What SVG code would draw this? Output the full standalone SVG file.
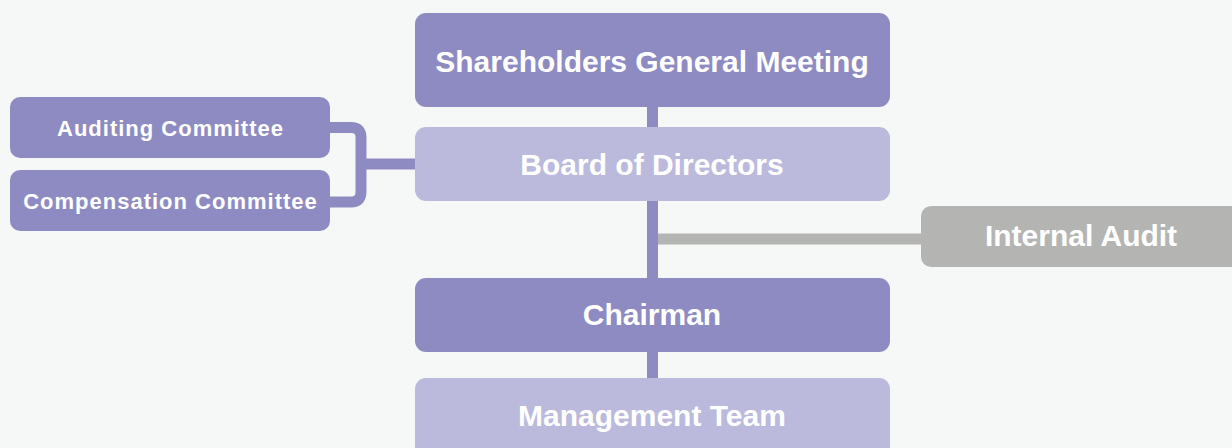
<svg xmlns="http://www.w3.org/2000/svg" width="1232" height="448" viewBox="0 0 1232 448">
<style>
.dark{fill:#8e8bc2}
.light{fill:#bbbadd}
.gray{fill:#b4b5b3}
text{font-family:"Liberation Sans",Arial,sans-serif;font-weight:bold;fill:#ffffff;text-anchor:middle}
.big{font-size:30px}
.small{font-size:22px;letter-spacing:1px}
.line{stroke:#8e8bc2;stroke-width:11;fill:none}
.gline{stroke:#b4b5b3;stroke-width:11;fill:none}
</style>
<rect width="1232" height="448" fill="#f6f8f7"/>
<g id="connectors">
<line class="line" x1="652.5" y1="100" x2="652.5" y2="135"/>
<line class="line" x1="652.5" y1="195" x2="652.5" y2="385"/>
<line class="gline" x1="658" y1="239" x2="930" y2="239"/>
<path class="line" d="M320 127.5 H351 Q361 127.5 361 137.5 V192 Q361 202 351 202 H320"/>
<line class="line" x1="361" y1="164" x2="420" y2="164"/>
</g>
<g id="shareholders"><rect class="dark" x="415" y="13" width="475" height="94" rx="11"/><text class="big" x="652" y="72">Shareholders General Meeting</text></g>
<g id="board"><rect class="light" x="415" y="127" width="475" height="74" rx="11"/><text class="big" x="652" y="175">Board of Directors</text></g>
<g id="chairman"><rect class="dark" x="415" y="278" width="475" height="74" rx="11"/><text class="big" x="652" y="325">Chairman</text></g>
<g id="management"><rect class="light" x="415" y="378" width="475" height="80" rx="11"/><text class="big" x="652" y="426">Management Team</text></g>
<g id="internal-audit"><rect class="gray" x="921" y="206" width="320" height="61" rx="10"/><text class="big" x="1081" y="246">Internal Audit</text></g>
<g id="auditing"><rect class="dark" x="10" y="97" width="320" height="61" rx="10"/><text class="small" x="170.5" y="136">Auditing Committee</text></g>
<g id="compensation"><rect class="dark" x="10" y="170" width="320" height="61" rx="10"/><text class="small" x="170.5" y="209">Compensation Committee</text></g>
</svg>
